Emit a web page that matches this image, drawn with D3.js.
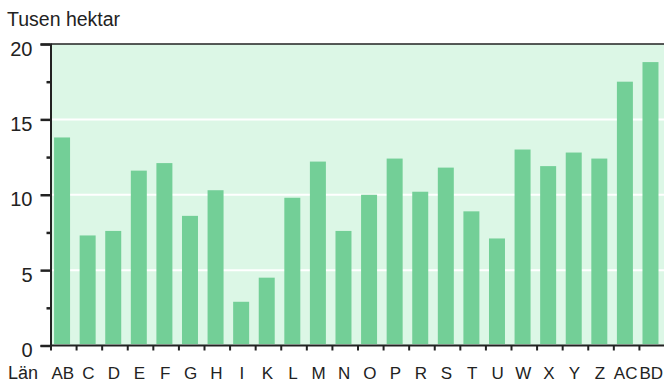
<!DOCTYPE html>
<html>
<head>
<meta charset="utf-8">
<script src="https://cdn.jsdelivr.net/npm/d3@7"></script>
<style>
  html, body { margin: 0; padding: 0; background: #fff; }
  svg { display: block; font-family: "Liberation Sans", Arial, sans-serif; }
</style>
</head>
<body>
<svg id="chart" width="664" height="383"></svg>
<script>
// Area per län, thousand hectares
const categories = ["AB","C","D","E","F","G","H","I","K","L","M","N","O","P","R","S","T","U","W","X","Y","Z","AC","BD"];
const values = [13.8, 7.3, 7.6, 11.6, 12.1, 8.6, 10.3, 2.9, 4.5, 9.8, 12.2, 7.6, 10.0, 12.4, 10.2, 11.8, 8.9, 7.1, 13.0, 11.9, 12.8, 12.4, 17.5, 18.8];
const majorTicks = [0, 5, 10, 15, 20];
const minorTicks = [2.5, 7.5, 12.5, 17.5];
const gridTicks = [5, 10, 15];
const yTitle = "Tusen hektar";
const xTitle = "Län";

const svg = d3.select("#chart");
const plotLeft = 50.5, plotRight = 665, plotTop = 44, plotBottom = 345.5;

const x = d3.scaleBand().domain(categories).range([51, plotRight]).padding(0);
const y = d3.scaleLinear().domain([0, 20]).range([plotBottom, plotTop]);

// plot background
svg.append("rect")
  .attr("x", plotLeft).attr("y", plotTop)
  .attr("width", plotRight - plotLeft).attr("height", plotBottom - plotTop)
  .attr("fill", "#dcf7e6");

// white grid lines
svg.append("g").selectAll("line").data(gridTicks).join("line")
  .attr("x1", plotLeft).attr("x2", plotRight)
  .attr("y1", d => y(d)).attr("y2", d => y(d))
  .attr("stroke", "#fff").attr("stroke-width", 2);

// bars
const bw = x.bandwidth();
svg.append("g").selectAll("rect").data(categories).join("rect")
  .attr("x", d => x(d) + bw * 0.12)
  .attr("width", bw * 0.625)
  .attr("y", (d, i) => y(values[i]))
  .attr("height", (d, i) => y(0) - y(values[i]) - 1.5)
  .attr("fill", "#73cf97");

// top frame line
svg.append("line")
  .attr("x1", plotLeft).attr("x2", plotRight)
  .attr("y1", plotTop).attr("y2", plotTop)
  .attr("stroke", "#222").attr("stroke-width", 1.5);

// left axis with major ticks and labels
const yAxis = d3.axisLeft(y).tickValues(majorTicks).tickSize(10).tickPadding(8).tickFormat(d3.format("d"));
const gy = svg.append("g").attr("transform", `translate(${plotLeft},0)`).call(yAxis);
gy.select(".domain").attr("stroke", "#222").attr("stroke-width", 2);
gy.selectAll(".tick line").attr("stroke", "#222").attr("stroke-width", 2.5);
gy.selectAll(".tick text")
  .attr("font-size", 20).attr("fill", "#222")
  .attr("font-family", "Liberation Sans, Arial, sans-serif")
  .attr("dy", 11);

// minor ticks
const gm = svg.append("g").attr("transform", `translate(${plotLeft},0)`)
  .call(d3.axisLeft(y).tickValues(minorTicks).tickSize(4).tickFormat(""));
gm.select(".domain").remove();
gm.selectAll(".tick line").attr("stroke", "#222").attr("stroke-width", 2.5);

// bottom axis
const xAxis = d3.axisBottom(x).tickSize(0).tickPadding(0);
const gx = svg.append("g").attr("transform", `translate(0,${plotBottom})`).call(xAxis);
gx.select(".domain").attr("stroke", "#222").attr("stroke-width", 2)
  .attr("d", `M${plotLeft},0H${plotRight}`);
gx.selectAll(".tick text")
  .attr("font-size", 17).attr("fill", "#222")
  .attr("font-family", "Liberation Sans, Arial, sans-serif")
  .attr("x", -1)
  .attr("y", 33.5).attr("dy", 0);

// category boundary ticks
svg.append("g").selectAll("line").data(categories).join("line")
  .attr("x1", d => x(d)).attr("x2", d => x(d))
  .attr("y1", plotBottom).attr("y2", plotBottom + 5)
  .attr("stroke", "#222").attr("stroke-width", 2);

// titles
svg.append("text").attr("x", 7).attr("y", 26)
  .attr("font-size", 19.5).attr("fill", "#222").text(yTitle);
svg.append("text").attr("x", 8).attr("y", 379)
  .attr("font-size", 18).attr("fill", "#222").text(xTitle);
</script>
</body>
</html>
